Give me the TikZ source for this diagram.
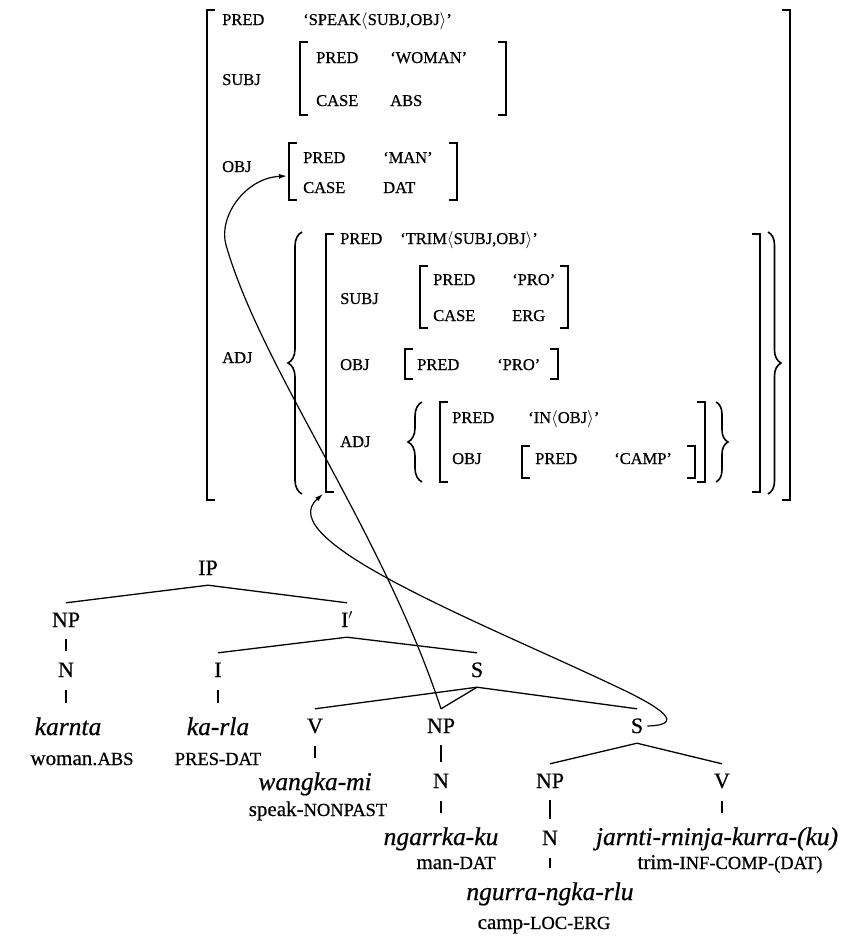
\documentclass[tikz,border=0pt]{standalone}
\usepackage{fontspec}
\setmainfont{Liberation Serif}[FakeBold=0.6]
\usetikzlibrary{arrows.meta,decorations.pathreplacing}
\newcommand{\smc}[1]{{\fontsize{18.5}{20}\selectfont #1}}
\begin{document}
\begin{tikzpicture}[x=1pt,y=-1pt,
  av/.style={anchor=base west, inner sep=0pt, font=\fontsize{16.5}{18}\selectfont},
  cat/.style={anchor=base, inner sep=0pt, text height=24pt, text depth=10pt, font=\fontsize{22}{24}\selectfont},
  wd/.style={anchor=base, inner sep=0pt, text height=27pt, text depth=6pt, font=\fontsize{25.5}{27}\selectfont\itshape},
  gl/.style={anchor=base, inner sep=0pt, font=\fontsize{21}{24}\selectfont},
  br/.style={line width=1.7pt},
  edge/.style={line width=1.3pt},
  bar/.style={line width=1.4pt, shorten <=2pt, shorten >=2pt},
  wbar/.style={line width=1.4pt, shorten <=3pt, shorten >=5pt},
  arr/.style={line width=1.2pt, -{Latex[length=8pt,width=5pt]}},
  bracel/.style={line width=1.6pt, decorate, decoration={brace, amplitude=#1}},
]
\useasboundingbox (0,0) rectangle (855,938);

% ---------- AVM ----------
\draw[br] (215,10) -- (207,10) -- (207,500) -- (215,500);
\draw[br] (782,10) -- (790,10) -- (790,500) -- (782,500);
\node[av] (pred0) at (222,25) {PRED};
\node[av] (speak) at (303,25) {`SPEAK$\langle$SUBJ,OBJ$\rangle$'};
% SUBJ
\node[av] (subj0) at (222,85) {SUBJ};
\draw[br] (308,42) -- (300,42) -- (300,115) -- (308,115);
\draw[br] (498,42) -- (506,42) -- (506,115) -- (498,115);
\node[av] (pred1) at (316,63) {PRED};
\node[av] (woman) at (390,63) {`WOMAN'};
\node[av] (case1) at (316,106) {CASE};
\node[av] (abs) at (390,106) {ABS};
% OBJ
\node[av] (obj0) at (222,172) {OBJ};
\draw[br] (297,143) -- (289,143) -- (289,200) -- (297,200);
\draw[br] (449,143) -- (457,143) -- (457,200) -- (449,200);
\node[av] (pred2) at (303,163) {PRED};
\node[av] (man) at (383,163) {`MAN'};
\node[av] (case2) at (303,193) {CASE};
\node[av] (dat) at (383,193) {DAT};
\coordinate (objtip) at (287,176);
% ADJ
\node[av] (adj0) at (222,363) {ADJ};
\draw[bracel=14pt] (302,494) -- (302,232);
\draw[bracel=13pt] (768,232) -- (768,494);
% TRIM f-structure
\draw[br] (334,234) -- (326,234) -- (326,492) -- (334,492);
\draw[br] (752,234) -- (760,234) -- (760,492) -- (752,492);
\coordinate (adjtip) at (323,494);
\node[av] (pred3) at (340,244) {PRED};
\node[av] (trim) at (400,244) {`TRIM$\langle$SUBJ,OBJ$\rangle$'};
\node[av] (subj1) at (340,304) {SUBJ};
\draw[br] (428,266) -- (420,266) -- (420,328) -- (428,328);
\draw[br] (560,266) -- (568,266) -- (568,328) -- (560,328);
\node[av] (pred4) at (433,285) {PRED};
\node[av] (pro1) at (512,285) {`PRO'};
\node[av] (case4) at (433,321) {CASE};
\node[av] (erg) at (512,321) {ERG};
\node[av] (obj1) at (340,370) {OBJ};
\draw[br] (413,349) -- (405,349) -- (405,379) -- (413,379);
\draw[br] (550,349) -- (558,349) -- (558,379) -- (550,379);
\node[av] (pred5) at (417,370) {PRED};
\node[av] (pro2) at (497,370) {`PRO'};
\node[av] (adj1) at (340,447) {ADJ};
\draw[bracel=14pt] (422,482) -- (422,402);
\draw[bracel=12pt] (716,402) -- (716,482);
\draw[br] (448,402) -- (440,402) -- (440,482) -- (448,482);
\draw[br] (697,402) -- (705,402) -- (705,482) -- (697,482);
\node[av] (pred6) at (452,423) {PRED};
\node[av] (in) at (528,423) {`IN$\langle$OBJ$\rangle$'};
\node[av] (obj2) at (452,464) {OBJ};
\draw[br] (530,446) -- (522,446) -- (522,478) -- (530,478);
\draw[br] (687,446) -- (695,446) -- (695,478) -- (687,478);
\node[av] (pred7) at (535,464) {PRED};
\node[av] (camp) at (614,464) {`CAMP'};

% ---------- tree ----------
\node[cat] (IP) at (208,575) {IP};
\node[cat] (NP1) at (66,627) {NP};
\node[cat] (Ibar) at (347,627) {I$'$};
\node[cat] (N1) at (66,677) {N};
\node[cat] (I) at (218,677) {I};
\node[cat] (S1) at (477,677) {S};
\node[wd] (karnta) at (68,735) {karnta};
\node[gl] (woman2) at (82,765) {woman.\smc{ABS}};
\node[wd] (karla) at (218,735) {ka-rla};
\node[gl] (presdat) at (218,765) {\smc{PRES-DAT}};
\node[cat] (V1) at (315,733) {V};
\node[cat] (NP2) at (441,733) {NP};
\node[cat] (S2) at (637,733) {S};
\node[wd] (wangka) at (315,790) {wangka-mi};
\node[gl] (speak2) at (318,816) {speak-\smc{NONPAST}};
\node[cat] (N2) at (441,788) {N};
\node[wd] (ngarrka) at (441,845) {ngarrka-ku};
\node[gl] (mandat) at (456,869) {man-\smc{DAT}};
\node[cat] (NP3) at (550,788) {NP};
\node[cat] (N3) at (550,845) {N};
\node[wd] (ngurra) at (550,900) {ngurra-ngka-rlu};
\node[gl] (camploc) at (544,929) {camp-\smc{LOC-ERG}};
\node[cat] (V3) at (722,788) {V};
\node[wd] (jarnti) at (717,845) {jarnti-rninja-kurra-(ku)};
\node[gl] (trimgl) at (730,869) {trim-\smc{INF-COMP-(DAT)}};

\draw[edge] (IP.south) -- (NP1.north);
\draw[edge] (IP.south) -- (Ibar.north);
\draw[bar] (NP1.south) -- (NP1.south |- N1.north);
\draw[wbar] (N1.south) -- (N1.south |- karnta.north);
\draw[edge] (Ibar.south) -- (I.north);
\draw[edge] (Ibar.south) -- (S1.north);
\draw[wbar] (I.south) -- (I.south |- karla.north);
\draw[edge] (S1.south) -- (V1.north);
\draw[edge] (S1.south) -- (NP2.north);
\draw[edge] (S1.south) -- (S2.north);
\draw[wbar] (V1.south) -- (V1.south |- wangka.north);
\draw[bar] (NP2.south) -- (NP2.south |- N2.north);
\draw[wbar] (N2.south) -- (N2.south |- ngarrka.north);
\draw[edge] (S2.south) -- (NP3.north);
\draw[edge] (S2.south) -- (V3.north);
\draw[bar] (NP3.south) -- (NP3.south |- N3.north);
\draw[wbar] (N3.south) -- (N3.south |- ngurra.north);
\draw[wbar] (V3.south) -- (V3.south |- jarnti.north);

% ---------- arrows ----------
\draw[arr] (NP2.north) .. controls (382,530) and (262,370) .. (226,245)
  .. controls (218,217) and (245,178) .. (objtip);
\draw[arr] ([xshift=4pt]S2.east) .. controls (685,725) and (665,709) .. (613,685)
  .. controls (480,622) and (270,540) .. (adjtip);
\end{tikzpicture}
\end{document}
